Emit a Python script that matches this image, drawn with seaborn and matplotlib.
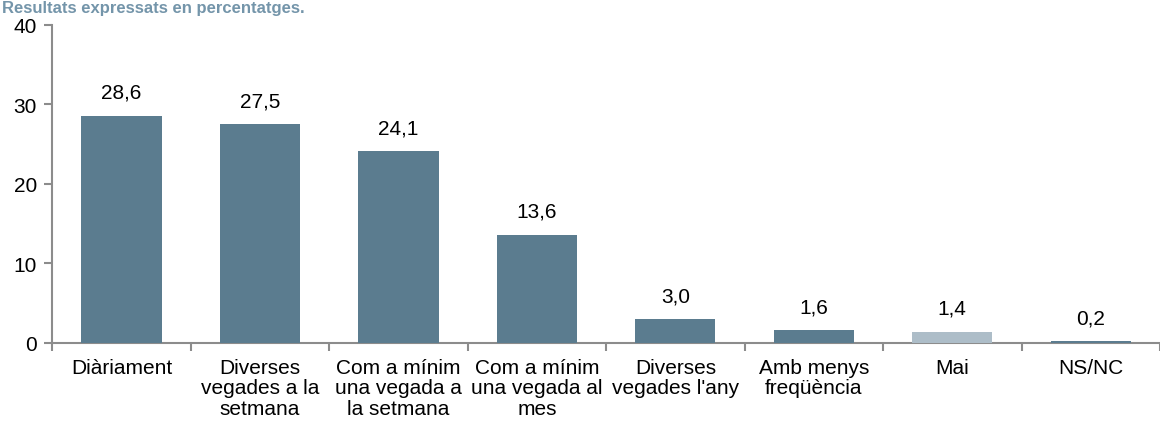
import matplotlib
matplotlib.use("Agg")
import matplotlib.pyplot as plt
import seaborn as sns
import pandas as pd
from matplotlib.ticker import FixedLocator

categories = ["Diàriament", "Diverses\nvegades a la\nsetmana", "Com a mínim\nuna vegada a\nla setmana",
              "Com a mínim\nuna vegada al\nmes", "Diverses\nvegades l'any", "Amb menys\nfreqüència",
              "Mai", "NS/NC"]
values = [28.6, 27.5, 24.1, 13.6, 3.0, 1.6, 1.4, 0.2]
labels = ["28,6", "27,5", "24,1", "13,6", "3,0", "1,6", "1,4", "0,2"]
title = "Resultats expressats en percentatges."

sns.set_theme(style="white")
plt.rcParams['font.family'] = ['Liberation Sans', 'DejaVu Sans']

dark = "#5B7C8F"
light = "#ADBDC8"
colors = [dark] * 6 + [light, dark]
FS = 15

df = pd.DataFrame({"cat": categories, "val": values})
fig = plt.figure(figsize=(11.6, 4.27), dpi=100)
ax = fig.add_axes([0.045, 0.1944, 0.955, 0.745])
sns.barplot(data=df, x="cat", y="val", hue="cat", palette=colors, legend=False,
            width=0.58, saturation=1, linewidth=0, ax=ax)
for p in ax.patches:
    p.set_zorder(3)
    p.set_clip_on(False)
    p.set_edgecolor("none")

ax.set_xlim(-0.5, 7.5)
ax.set_ylim(0, 40)
ax.set_yticks([0, 10, 20, 30, 40])
ax.set_ylabel("")
ax.set_xlabel("")
for s in ["top", "right"]:
    ax.spines[s].set_visible(False)
for s in ["left", "bottom"]:
    ax.spines[s].set_color("#8C8C8C")
    ax.spines[s].set_linewidth(1.5)
    ax.spines[s].set_zorder(2)

ax.tick_params(axis="y", which="major", left=True, length=6, width=1.5, color="#8C8C8C",
               labelsize=FS, pad=5, labelcolor="black")
ax.tick_params(axis="x", which="major", bottom=False, length=0, labelsize=FS, pad=11, labelcolor="black")
ax.xaxis.set_minor_locator(FixedLocator([i + 0.5 for i in range(-1, 8)]))
ax.tick_params(axis="x", which="minor", bottom=True, length=6, width=1.5, color="#8C8C8C")
for t in ax.get_xticklabels():
    t.set_linespacing(1.08)

for i, (v, l) in enumerate(zip(values, labels)):
    ax.annotate(l, (i, v), xytext=(0, 10), textcoords="offset points", ha="center",
                va="bottom", fontsize=FS, color="black")

fig.text(0.002, 0.998, title, fontsize=12, fontweight="bold", color="#7495AA",
         ha="left", va="top")

fig.savefig("out.png", dpi=100)
